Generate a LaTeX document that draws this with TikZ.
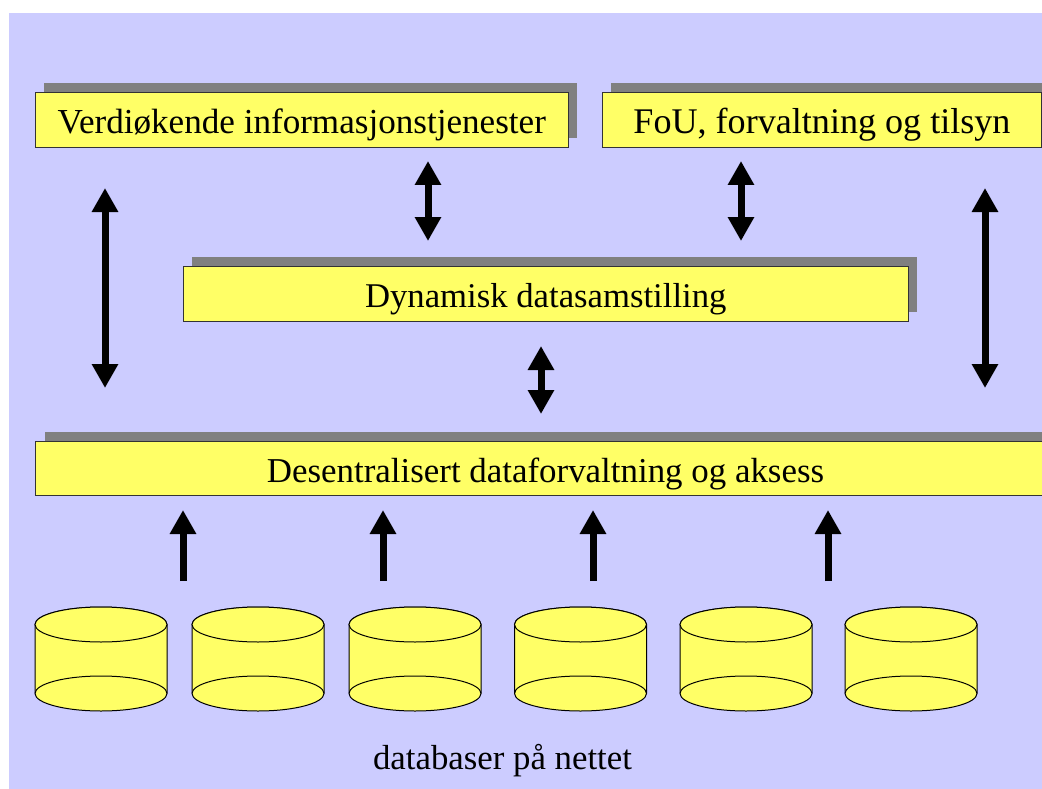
\documentclass[tikz,border=0pt]{standalone}
\usepackage{fontspec}
\setmainfont{Liberation Serif}
\usetikzlibrary{arrows.meta}
\definecolor{bgblue}{HTML}{CCCCFF}
\definecolor{boxyellow}{HTML}{FFFF66}
\definecolor{shadowgray}{HTML}{808080}
\newcommand{\lowered}[2]{\raisebox{-5pt}[\height][\depth]{\fontsize{#1}{38}\selectfont #2}}
\tikzset{
  x=1pt,y=-1pt,
  panel/.style={draw=black!80,line width=1pt,fill=boxyellow,inner sep=0pt,text=black,anchor=north west,align=center},
  shadowbox/.style={fill=shadowgray,draw=none},
  twoway/.style={line width=7pt,{Triangle[length=24pt,width=25pt]}-{Triangle[length=24pt,width=25pt]}},
  oneway/.style={line width=7pt,-{Triangle[length=24pt,width=25pt]}},
  dbline/.style={draw=black,line width=1pt,fill=boxyellow},
}
\newcommand{\dbcyl}[1]{%
  \path[dbline] (#1-66,624.5) -- (#1-66,693.5) arc[start angle=180,end angle=0,x radius=66,y radius=17.5] -- (#1+66,624.5) arc[start angle=0,end angle=-180,x radius=66,y radius=17.5] -- cycle;
  \draw[dbline] (#1,624.5) ellipse[x radius=66,y radius=17.5];
  \draw[dbline,fill=none] (#1-66,693.5) arc[start angle=180,end angle=360,x radius=66,y radius=17.5];
}
\begin{document}
\begin{tikzpicture}
\useasboundingbox (0,0) rectangle (1042,789);
\clip (0,0) rectangle (1042,789);
\fill[bgblue] (9,13) rectangle (1042,789);
% shadows
\fill[shadowbox] (44,83) rectangle (577,138);
\fill[shadowbox] (611,83) rectangle (1050,138);
\fill[shadowbox] (192,257) rectangle (917,312);
\fill[shadowbox] (45,432) rectangle (1064,486);
% boxes
\node[panel,minimum width=532.5pt,minimum height=54.8pt] (verdi) at (35,92) {\lowered{35.1}{Verdiøkende informasjonstjenester}};
\node[panel,minimum width=439pt,minimum height=54.8pt] (fou) at (602,92) {\lowered{36.1}{FoU, forvaltning og tilsyn}};
\node[panel,minimum width=724.5pt,minimum height=54.8pt] (dyn) at (183,266) {\lowered{34.7}{Dynamisk datasamstilling}};
\node[panel,minimum width=1020pt,minimum height=54pt] (des) at (35,441) {\lowered{34.9}{Desentralisert dataforvaltning og aksess}};
% double arrows
\coordinate (a1t) at (105,188); \coordinate (a1b) at (105,388);
\coordinate (a2t) at (428,161); \coordinate (a2b) at (428,241);
\coordinate (a3t) at (741,161); \coordinate (a3b) at (741,241);
\coordinate (a4t) at (985,188); \coordinate (a4b) at (985,388);
\coordinate (a5t) at (541,346); \coordinate (a5b) at (541,414);
\draw[twoway] (a1t) -- (a1b);
\draw[twoway] (a2t) -- (a2b);
\draw[twoway] (a3t) -- (a3b);
\draw[twoway] (a4t) -- (a4b);
\draw[twoway] (a5t) -- (a5b);
% up arrows
\coordinate (u1b) at (183,581); \coordinate (u1t) at (183,510);
\coordinate (u2b) at (383,581); \coordinate (u2t) at (383,510);
\coordinate (u3b) at (593,581); \coordinate (u3t) at (593,510);
\coordinate (u4b) at (828,581); \coordinate (u4t) at (828,510);
\draw[oneway] (u1b) -- (u1t);
\draw[oneway] (u2b) -- (u2t);
\draw[oneway] (u3b) -- (u3t);
\draw[oneway] (u4b) -- (u4t);
% cylinders
\dbcyl{101}
\dbcyl{258}
\dbcyl{415}
\dbcyl{580.5}
\dbcyl{746}
\dbcyl{911}
\node[font=\fontsize{34.8}{38}\selectfont,inner sep=0pt] (cap) at (502.5,761) {databaser på nettet};
\end{tikzpicture}
\end{document}
